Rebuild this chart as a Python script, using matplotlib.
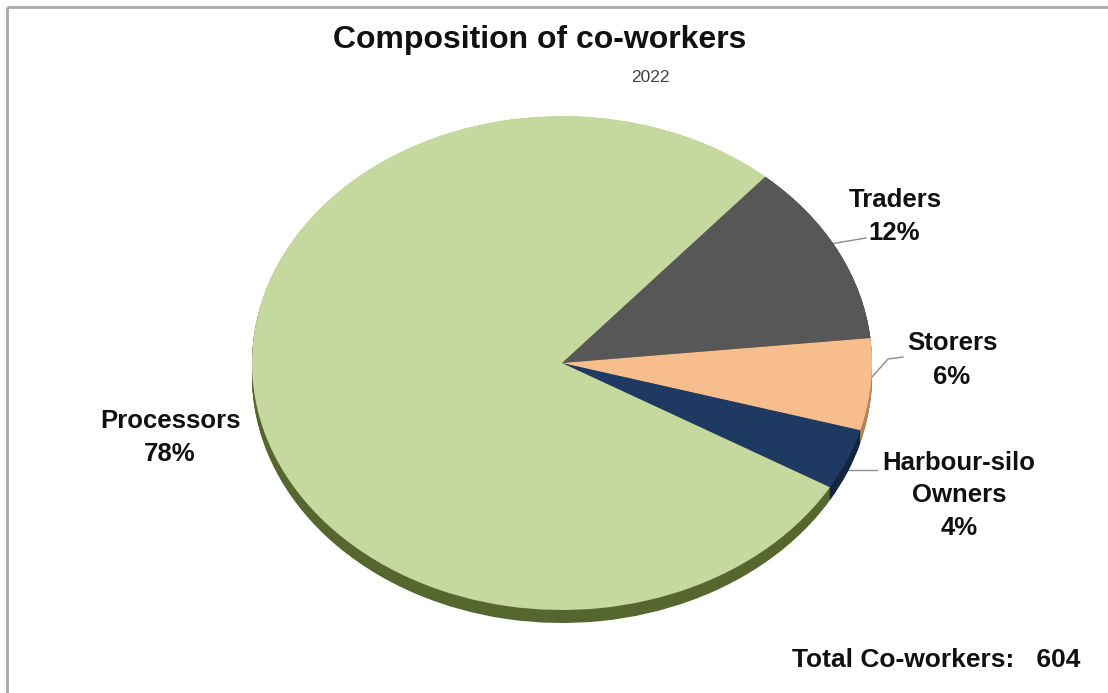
import numpy as np
import matplotlib.pyplot as plt

# Composition of co-workers, 2022
categories = ["Traders", "Storers", "Harbour-silo Owners", "Processors"]
shares = [12, 6, 4, 78]
total_coworkers = 604
title = "Composition of co-workers"
subtitle = "2022"

top_colors = ["#575757", "#f8bd8c", "#1f3a62", "#c5d89e"]
side_colors = ["#333333", "#b3835a", "#13253f", "#56662f"]

W, H = 1108, 693
plt.rcParams['font.family'] = ['Liberation Sans', 'DejaVu Sans']

fig = plt.figure(figsize=(W / 100, H / 100), dpi=100)
bg = fig.add_axes([0, 0, 1, 1])
bg.set_xlim(0, W)
bg.set_ylim(H, 0)
bg.axis('off')

# chart frame (top and left edges)
bg.plot([7, 7], [7, H], color="#a8a8a8", lw=2, solid_capstyle='butt')
bg.plot([7, W], [7, 7], color="#a8a8a8", lw=2, solid_capstyle='butt')

# tilted pie: ellipse bounding box in pixels
cx, cy, rx, ry, depth = 562, 363, 310, 247, 13
pie_ax = fig.add_axes([(cx - rx) / W, (H - (cy + ry + depth)) / H,
                       2 * rx / W, (2 * ry + depth) / H])
d = depth / ry
start = 49

# side of the disc, built up from stacked layers
for k in np.linspace(d, 0.002, 16):
    pie_ax.pie(shares, colors=side_colors, startangle=start, counterclock=False,
               center=(0, -k), radius=1, wedgeprops=dict(linewidth=0))
# top face
pie_ax.pie(shares, colors=top_colors, startangle=start, counterclock=False,
           center=(0, 0), radius=1, wedgeprops=dict(linewidth=0))
pie_ax.set_aspect('auto')
pie_ax.set_xlim(-1, 1)
pie_ax.set_ylim(-1 - d, 1)
pie_ax.axis('off')

# titles
bg.text(540, 48, title, ha='center', va='baseline', fontsize=23,
        fontweight='bold', color='#111111')
bg.text(650, 82, subtitle, ha='center', va='baseline', fontsize=12.5,
        color='#404040')

lbl = dict(ha='center', va='baseline', fontsize=18.5, fontweight='bold',
           color='#111111')

def pct(v):
    return f"{v}%"

# Traders
bg.text(895, 207, categories[0], **lbl)
bg.text(894, 240, pct(shares[0]), **lbl)
bg.plot([830, 866], [244, 238], color="#8c8c8c", lw=1)
# Storers
bg.text(952, 350, categories[1], **lbl)
bg.text(952, 384, pct(shares[1]), **lbl)
bg.plot([872, 888, 903], [377, 359, 357], color="#8c8c8c", lw=1)
# Harbour-silo Owners
bg.text(959, 470, "Harbour-silo", **lbl)
bg.text(959, 502, "Owners", **lbl)
bg.text(959, 535, pct(shares[2]), **lbl)
bg.plot([845, 877], [470, 470], color="#8c8c8c", lw=1)
# Processors
bg.text(170, 428, categories[3], **lbl)
bg.text(170, 461, pct(shares[3]), **lbl)

bg.text(1080, 667, f"Total Co-workers:   {total_coworkers}", ha='right',
        va='baseline', fontsize=19, fontweight='bold', color='#111111')

fig.savefig("out.png", dpi=100)
